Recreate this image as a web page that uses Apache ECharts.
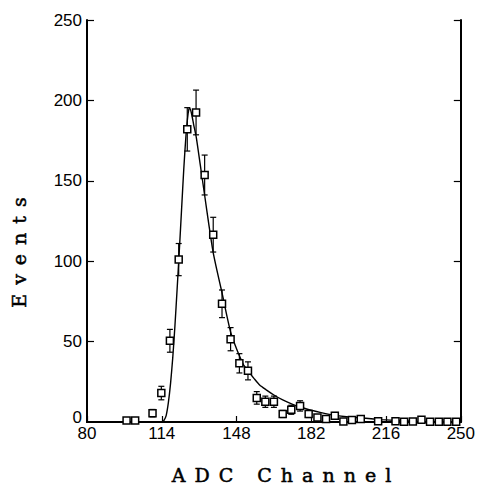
<!DOCTYPE html>
<html><head><meta charset="utf-8">
<script src="https://cdn.jsdelivr.net/npm/echarts@6/dist/echarts.min.js"></script>
<style>
html,body{margin:0;padding:0;background:#fff;}
#c{width:478px;height:485px;}
#c text[style*="DejaVu Serif"]{letter-spacing:9px;}
</style></head><body><div id="c"></div>
<script>
// ---- data ----
const xTicks = [80, 114, 148, 182, 216, 250];
const yTicks = [0, 50, 100, 150, 200, 250];
const channel = [98.0, 101.9, 109.8, 113.8, 117.7, 121.7, 125.6, 129.6, 133.5, 137.4, 141.4, 145.3, 149.3, 153.2, 157.2, 161.1, 165.0, 169.0, 172.9, 176.9, 180.8, 184.8, 188.7, 192.7, 196.6, 200.5, 204.5, 212.4, 220.3, 224.2, 228.2, 232.1, 236.0, 240.0, 243.9, 247.9];
const events = [1, 1, 5.5, 18, 50.5, 101, 182, 192.5, 153.6, 116.5, 73.5, 51.5, 36.5, 31.8, 15, 12.6, 12.6, 5, 7.6, 10, 5, 2.8, 1.8, 3.9, 0.3, 1.3, 1.8, 0.4, 0.4, 0.2, 0.3, 1.4, 0.2, 0.2, 0.2, 0.2];
const errors = [1, 1, 2.3, 4.2, 7.1, 10, 13.5, 13.9, 12.4, 10.8, 8.6, 7.2, 6, 5.6, 3.9, 3.5, 3.5, 2.2, 2.8, 3.2, 2.2, 1.7, 1.3, 2, 0.5, 1.1, 1.3, 0.6, 0.6, 0.4, 0.5, 1.2, 0.4, 0.4, 0.4, 0.4];
const fitX = [80, 114.3, 115, 116, 117, 118, 119, 120, 121, 122, 123, 124, 125, 126, 126.6, 127.5, 128.5, 129.7, 131.5, 133.5, 135.5, 137.3, 139.3, 141.3, 143.3, 145.3, 147.3, 149.2, 151, 153.1, 156, 158.5, 161.5, 165, 169, 173, 176.6, 181, 186, 191.7, 198, 206.8, 214, 221.9, 230, 240, 250];
const fitY = [0, 0, 1, 4, 12, 24, 40, 60, 83, 107, 132, 157, 178, 192, 195.5, 192, 185, 177, 160, 141, 122, 106, 93, 81, 68, 56, 48, 41.5, 36, 32, 27, 23, 20, 16.8, 13.7, 11.3, 9.5, 7.6, 6, 4.4, 3.3, 2.3, 1.5, 0.9, 0.5, 0.3, 0.2];

const pts = channel.map((x, i) => [x, events[i], errors[i]]);
const fit = fitX.map((x, i) => [x, fitY[i]]);

const chart = echarts.init(document.getElementById('c'), null, {renderer: 'svg'});
const lbl = {color: '#000', fontFamily: 'Liberation Sans', fontSize: 17};
chart.setOption({
  animation: false,
  backgroundColor: '#fff',
  grid: {left: 87, right: 16, top: 20, bottom: 63},
  xAxis: [{
    type: 'value', min: xTicks[0], max: xTicks[xTicks.length - 1], interval: xTicks[1] - xTicks[0],
    axisLine: {lineStyle: {color: '#000', width: 2}},
    axisTick: {inside: true, length: 6, lineStyle: {color: '#000', width: 1.2}},
    axisLabel: Object.assign({margin: 3}, lbl),
    splitLine: {show: false}
  }, {
    type: 'value', position: 'top', min: xTicks[0], max: xTicks[xTicks.length - 1],
    axisLine: {show: true, lineStyle: {color: '#000', width: 2}},
    axisTick: {show: false}, axisLabel: {show: false}, splitLine: {show: false}
  }],
  yAxis: [{
    type: 'value', min: yTicks[0], max: yTicks[yTicks.length - 1], interval: yTicks[1] - yTicks[0],
    axisLine: {show: true, lineStyle: {color: '#000', width: 2}},
    axisTick: {show: true, inside: true, length: 7, lineStyle: {color: '#000', width: 1.2}},
    axisLabel: Object.assign({margin: 5, showMinLabel: false}, lbl),
    splitLine: {show: false}
  }, {
    type: 'value', position: 'right', min: yTicks[0], max: yTicks[yTicks.length - 1], interval: yTicks[1] - yTicks[0],
    axisLine: {show: true, lineStyle: {color: '#000', width: 2}},
    axisTick: {show: true, inside: true, length: 7, lineStyle: {color: '#000', width: 1.2}},
    axisLabel: {show: false}, splitLine: {show: false}
  }],
  graphic: [{
    type: 'text', x: 82, y: 426,
    style: {text: String(yTicks[0]), fill: '#000', font: '17px "Liberation Sans"', textAlign: 'right', textVerticalAlign: 'bottom'}
  }, {
    type: 'text', x: 286, y: 475,
    style: {text: 'ADC Channel', fill: '#000', stroke: '#000', lineWidth: 0.5, font: '19px "DejaVu Serif"', textAlign: 'center', textVerticalAlign: 'middle'}
  }, {
    type: 'text', x: 19, y: 248, rotation: Math.PI / 2,
    style: {text: 'Events', fill: '#000', stroke: '#000', lineWidth: 0.5, font: '19px "DejaVu Serif"', textAlign: 'center', textVerticalAlign: 'middle'}
  }],
  series: [{
    type: 'line', data: fit, showSymbol: false, smooth: 0.2, z: 2,
    lineStyle: {color: '#000', width: 1.4}
  }, {
    type: 'custom', z: 3, data: pts,
    renderItem: function (params, api) {
      const x = api.value(0), y = api.value(1), e = api.value(2);
      const top = api.coord([x, y + e]);
      const bot = api.coord([x, Math.max(0, y - e)]);
      const st = {stroke: '#000', lineWidth: 1.2};
      return {type: 'group', children: [
        {type: 'line', shape: {x1: top[0], y1: top[1], x2: bot[0], y2: bot[1]}, style: st},
        {type: 'line', shape: {x1: top[0] - 3, y1: top[1], x2: top[0] + 3, y2: top[1]}, style: st},
        {type: 'line', shape: {x1: bot[0] - 3, y1: bot[1], x2: bot[0] + 3, y2: bot[1]}, style: st}
      ]};
    }
  }, {
    type: 'scatter', z: 4, data: pts.map(p => [p[0], p[1]]),
    symbol: 'rect', symbolSize: 7,
    itemStyle: {color: '#fff', borderColor: '#000', borderWidth: 1.5, opacity: 1}
  }]
});
</script></body></html>
